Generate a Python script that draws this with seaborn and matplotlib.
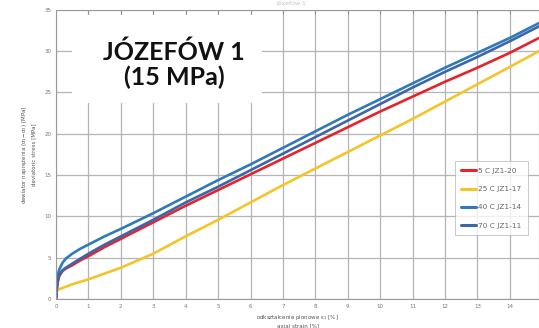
import numpy as np
import pandas as pd
import matplotlib
matplotlib.use("Agg")
import matplotlib.pyplot as plt
import seaborn as sns
from matplotlib.patches import Rectangle

# ---- data ----
labels = ["5 C JZ1-20", "25 C JZ1-17", "40 C JZ1-14", "70 C JZ1-11"]
colors = ["#e4242c", "#f3c52a", "#2f7ab9", "#3d66aa"]

strain = [0, 0.02, 0.05, 0.1, 0.2, 0.3, 0.5, 0.75, 1, 1.5, 2, 3, 4, 5, 6, 7, 8,
          9, 10, 11, 12, 13, 14, 14.9]

stress_5C = [0, 1.0, 2.0, 2.8, 3.4, 3.7, 4.1, 4.7, 5.2, 6.3, 7.3, 9.3, 11.3, 13.2,
             15.1, 17.0, 18.9, 20.8, 22.7, 24.5, 26.3, 28.0, 29.8, 31.6]
stress_25C = [0.8, 1.0, 1.1, 1.2, 1.35, 1.5, 1.8, 2.1, 2.4, 3.1, 3.8, 5.5, 7.6,
              9.6, 11.7, 13.8, 15.8, 17.8, 19.8, 21.8, 23.9, 26.0, 28.1, 30.0]
stress_40C = [0, 1.5, 2.8, 3.6, 4.4, 4.9, 5.5, 6.1, 6.6, 7.6, 8.5, 10.4, 12.4,
              14.4, 16.3, 18.3, 20.3, 22.3, 24.2, 26.1, 28.0, 29.8, 31.6, 33.4]
stress_70C = [0, 1.2, 2.3, 3.0, 3.5, 3.8, 4.3, 4.9, 5.5, 6.6, 7.6, 9.6, 11.7,
              13.6, 15.6, 17.6, 19.6, 21.6, 23.6, 25.6, 27.5, 29.3, 31.2, 33.0]

x_ticks = list(range(0, 15))
y_ticks = list(range(0, 36, 5))

series = [stress_5C, stress_25C, stress_40C, stress_70C]
frames = []
for lab, vals in zip(labels, series):
    frames.append(pd.DataFrame({"strain": strain, "stress": vals, "sample": lab}))
df = pd.concat(frames, ignore_index=True)

# ---- plot ----
sns.set_style("white")
plt.rcParams["font.family"] = ["DejaVu Sans"]

fig = plt.figure(figsize=(5.39, 3.28), dpi=100)
ax = fig.add_axes([0.104, 0.088, 0.896, 0.882])

sns.lineplot(data=df, x="strain", y="stress", hue="sample", hue_order=labels,
             palette=colors, linewidth=1.9, estimator=None, sort=False, ax=ax,
             legend=True)

ax.set_xlim(0, 14.9)
ax.set_ylim(0, 35)
ax.set_xticks(x_ticks)
ax.set_yticks(y_ticks)
ax.grid(True, color="#b4b4b4", linewidth=0.9)
ax.set_axisbelow(True)
for s in ax.spines.values():
    s.set_color("#9a9a9a")
    s.set_linewidth(0.8)
ax.tick_params(axis="both", direction="in", length=3, width=0.6, colors="#8a8a8a",
               labelsize=4, labelcolor="#777777", top=True, right=False)

ax.set_xlabel("odkształcenie pionowe ε$_1$ [%]\naxial strain [%]", fontsize=4,
              color="#555555", labelpad=3, linespacing=1.3)
ax.set_ylabel("dewiator naprężenia (σ$_1$−σ$_3$) [MPa]\ndeviatoric stress [MPa]",
              fontsize=4, color="#555555", labelpad=6, linespacing=1.5)

# legend
handles, labs = ax.get_legend_handles_labels()
leg = ax.legend(handles, labs, loc="upper left", bbox_to_anchor=(0.818, 0.49),
                fontsize=5.3, frameon=True, fancybox=False, edgecolor="#b0b0b0",
                labelspacing=1.65, handlelength=2.0, handletextpad=0.2,
                borderpad=0.9, labelcolor="#666666")
leg.get_frame().set_linewidth(0.6)
for ln in leg.get_lines():
    ln.set_linewidth(2.2)

# white annotation box
ax.add_patch(Rectangle((0.033, 0.678), 0.393, 0.305, transform=ax.transAxes,
                       facecolor="white", edgecolor="none", zorder=5))
ax.text(0.244, 0.81, "JÓZEFÓW 1\n(15 MPa)", transform=ax.transAxes,
        ha="center", va="center", fontsize=18, fontweight="bold",
        family=["Lato", "DejaVu Sans"], color="#111111", linespacing=1.1,
        zorder=6)

# faint title at the very top (mostly cropped in reference)
fig.text(0.54, 0.999, "Józefów 1", ha="center", va="top", fontsize=4.5,
         color="#c4c4c4")

fig.savefig("out.png", dpi=100)
